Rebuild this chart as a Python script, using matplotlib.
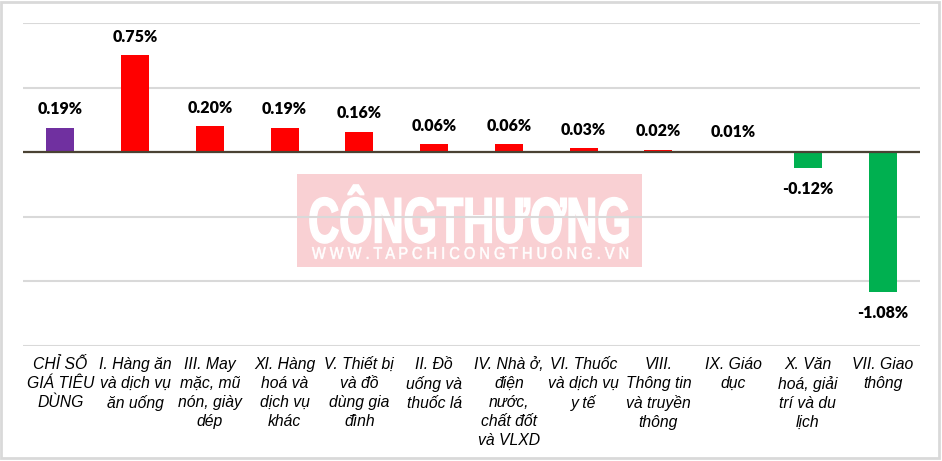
import matplotlib.pyplot as plt
from matplotlib.patches import Rectangle, PathPatch
from matplotlib.textpath import TextPath
from matplotlib.font_manager import FontProperties
from matplotlib.transforms import Affine2D

# dữ liệu: mức thay đổi chỉ số giá (%)
categories = [
    "CHỈ SỐ\nGIÁ TIÊU\nDÙNG",
    "I. Hàng ăn\nvà dịch vụ\năn uống",
    "III. May\nmặc, mũ\nnón, giày\ndép",
    "XI. Hàng\nhoá và\ndịch vụ\nkhác",
    "V. Thiết bị\nvà đồ\ndùng gia\nđình",
    "II. Đồ\nuống và\nthuốc lá",
    "IV. Nhà ở,\nđiện\nnước,\nchất đốt\nvà VLXD",
    "VI. Thuốc\nvà dịch vụ\ny tế",
    "VIII.\nThông tin\nvà truyền\nthông",
    "IX. Giáo\ndục",
    "X. Văn\nhoá, giải\ntrí và du\nlịch",
    "VII. Giao\nthông",
]
values = [0.19, 0.75, 0.20, 0.19, 0.16, 0.06, 0.06, 0.03, 0.02, 0.01, -0.12, -1.08]
y_ticks = [-1.5, -1.0, -0.5, 0.0, 0.5, 1.0]

colors = []
for i, v in enumerate(values):
    if i == 0:
        colors.append('#7030A0')
    elif v >= 0:
        colors.append('#FF0000')
    else:
        colors.append('#00B050')

fig = plt.figure(figsize=(9.42, 4.61), dpi=100)
ax = fig.add_axes([23 / 942, 1 - 346 / 461, 897 / 942, 323 / 461])

x = list(range(len(values)))
ax.bar(x, values, width=0.375, color=colors, zorder=2)

ax.set_xlim(-0.5, len(values) - 0.5)
ax.set_ylim(-1.5, 1.0)
ax.set_yticks(y_ticks)
ax.set_yticklabels([])
ax.tick_params(axis='y', length=0)
ax.grid(axis='y', color='#d9d9d9', linewidth=1.5, zorder=0.5)
ax.set_axisbelow(True)
for s in ax.spines.values():
    s.set_visible(False)
ax.axhline(0, color='#4a4233', linewidth=1.6, zorder=3)

ax.set_xticks(x)
ax.set_xticklabels(categories, fontsize=11.3, style='italic', family='Liberation Sans',
                   linespacing=1.33, multialignment='center')
ax.tick_params(axis='x', length=0, pad=8)

# nhãn giá trị
for xi, v in zip(x, values):
    off = 13.5 if v >= 0 else -15
    ax.annotate(f"{v:.2f}%", (xi, v), xytext=(0, off), textcoords='offset points',
                ha='center', va='center', fontsize=11.5, fontweight='heavy',
                family='Lato', color='black', zorder=4)

# watermark
fig_tr = fig.transFigure
ax.add_patch(Rectangle((297 / 942, 1 - 267 / 461), 345 / 942, 93 / 461,
                       transform=fig_tr, facecolor='#f9d0d3', edgecolor='none', zorder=0.2))


def wm_text(s, x0, x1, y0, y1, weight, lw):
    tp = TextPath((0, 0), s, prop=FontProperties(family='Liberation Sans', weight=weight))
    ext = tp.get_extents()
    sx = (x1 - x0) / 942 / ext.width
    sy = (y1 - y0) / 461 / ext.height
    tr = Affine2D().translate(-ext.x0, -ext.y0).scale(sx, sy).translate(x0 / 942, 1 - y1 / 461)
    ax.add_patch(PathPatch(tp, transform=tr + fig_tr, facecolor='white',
                           edgecolor='white', linewidth=lw, zorder=0.3))


wm_text("CÔNGTHƯƠNG", 310, 628, 185, 243, 'bold', 1.2)
wm_text("W W W . T A P C H I C O N G T H U O N G . V N", 312, 628, 247, 259, 'normal', 0.4)

# khung ngoài
fig.add_artist(Rectangle((1 / 942, 3 / 461), 938 / 942, 456 / 461, transform=fig_tr,
                         fill=False, edgecolor='#d9d9d9', linewidth=2))

fig.savefig('out.png', dpi=100)
